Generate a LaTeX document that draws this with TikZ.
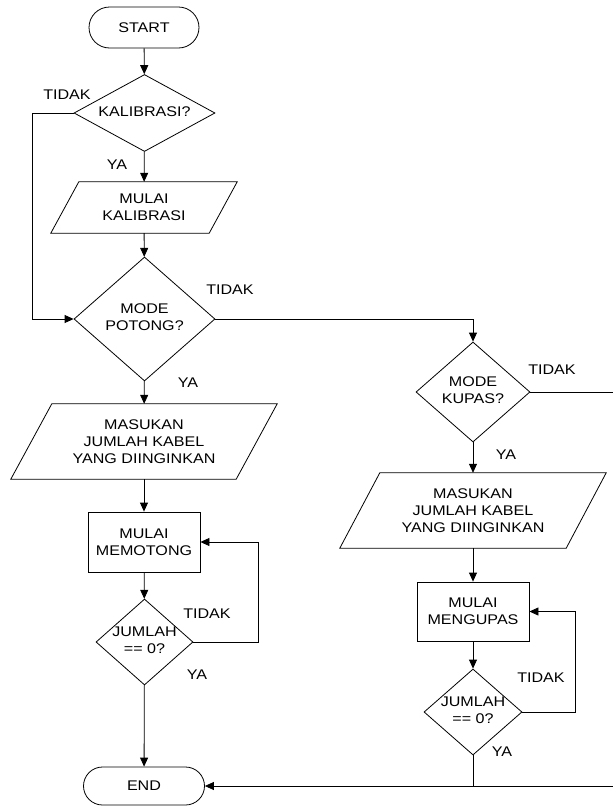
\documentclass[tikz,border=0pt]{standalone}
\usepackage{fontspec}
\setmainfont[FakeStretch=1.15]{Liberation Sans}
\usetikzlibrary{shapes.geometric,shapes.misc,arrows.meta,calc}
\newcommand\zbox[1]{\makebox[0pt]{\begin{tabular}{@{}c@{}}#1\end{tabular}}}
\begin{document}
\begin{tikzpicture}[x=1pt,y=-1pt,
  every node/.style={font=\fontsize{14}{16.7}\selectfont, inner sep=0pt},
  line/.style={line width=0.8pt, draw=black},
  arr/.style={line, -{Triangle[length=9pt,width=8pt]}},
  term/.style={rounded rectangle, draw, line width=0.8pt},
  dec/.style={diamond, draw, line width=0.8pt},
  proc/.style={rectangle, draw, line width=0.8pt, align=center},
  io/.style={rectangle, align=center}]
\useasboundingbox (0,0) rectangle (613,806);

% left column
\node[term, minimum width=110pt, minimum height=41pt] (start) at (144,27.5) {START};
\node[dec, minimum width=141pt, minimum height=77pt] (kal) at (144.5,113) {\zbox{KALIBRASI?}};
\node[io, minimum width=186pt, minimum height=51pt] (mk) at (144,207.5) {MULAI\\KALIBRASI};
\draw[line] ([xshift=28pt]mk.north west) -- (mk.north east) -- ([xshift=-28pt]mk.south east) -- (mk.south west) -- cycle;
\node[dec, minimum width=141pt, minimum height=124pt] (pot) at (144.5,319) {\zbox{MODE\\POTONG?}};
\node[io, minimum width=266pt, minimum height=75pt] (in1) at (144,441.5) {MASUKAN\\JUMLAH KABEL\\YANG DIINGINKAN};
\draw[line] ([xshift=41pt]in1.north west) -- (in1.north east) -- ([xshift=-41pt]in1.south east) -- (in1.south west) -- cycle;
\node[proc, minimum width=112pt, minimum height=60pt] (mem) at (144,542) {MULAI\\MEMOTONG};
\node[dec, minimum width=97pt, minimum height=86pt] (j1) at (144.5,642) {\zbox{JUMLAH\\== 0?}};
\node[term, minimum width=121pt, minimum height=38pt] (endn) at (144,786) {END};

% right column
\node[dec, minimum width=114pt, minimum height=100pt] (kup) at (473,392) {\zbox{MODE\\KUPAS?}};
\node[io, minimum width=266pt, minimum height=75pt] (in2) at (473,510.5) {MASUKAN\\JUMLAH KABEL\\YANG DIINGINKAN};
\draw[line] ([xshift=40pt]in2.north west) -- (in2.north east) -- ([xshift=-40pt]in2.south east) -- (in2.south west) -- cycle;
\node[proc, minimum width=112pt, minimum height=59pt] (kpr) at (473,611.5) {MULAI\\MENGUPAS};
\node[dec, minimum width=98pt, minimum height=86pt] (j2) at (473,712) {\zbox{JUMLAH\\== 0?}};

% edge coordinates
\coordinate (kl) at (32,113);
\coordinate (re1) at (613,392);
\coordinate (re2) at (613,786);

% connectors
\draw[arr] (start) -- (kal);
\draw[arr] (kal) -- (mk);
\draw[arr] (mk) -- (pot);
\draw[arr] (kal.west) -- (kl) |- (pot.west);
\draw[arr] (pot) -- (in1);
\draw[arr] (in1) -- (mem);
\draw[arr] (mem) -- (j1);
\draw[arr] (j1.east) -- ++(65,0) |- (mem.east);
\draw[arr] (j1) -- (endn);
\draw[arr] (pot.east) -| (kup.north);
\draw[line] (kup.east) -- (re1);
\draw[arr] (kup) -- (in2);
\draw[arr] (in2) -- (kpr);
\draw[arr] (kpr) -- (j2);
\draw[arr] (j2.east) -- ++(53,0) |- (kpr.east);
\draw[line] (j2.south) -- (j2.south |- endn.east);
\draw[arr] (re2) -- (endn.east);

% labels
\node (t1) at (67,95) {TIDAK};
\node (y1) at (117,165) {YA};
\node (t2) at (230,290) {TIDAK};
\node (y2) at (188,383) {YA};
\node (t3) at (552,370) {TIDAK};
\node (y3) at (506,455) {YA};
\node (t4) at (207,614) {TIDAK};
\node (y4) at (197,675) {YA};
\node (t5) at (541,678) {TIDAK};
\node (y5) at (502,752) {YA};
\end{tikzpicture}
\end{document}
